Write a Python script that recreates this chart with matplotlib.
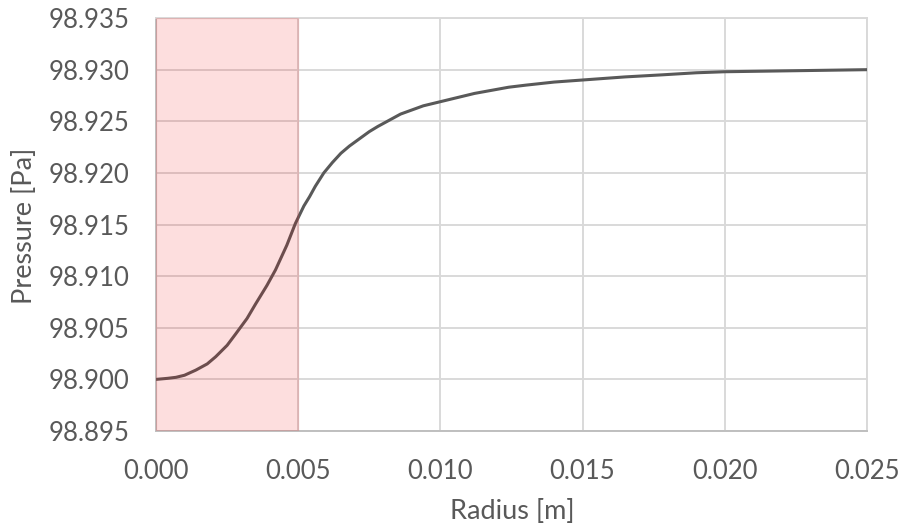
import numpy as np
import matplotlib.pyplot as plt

# values
radius = [0.0000, 0.0004, 0.0007, 0.0010, 0.0014, 0.0018, 0.0021, 0.0025,
          0.0028, 0.0032, 0.0035, 0.0039, 0.0042, 0.0046, 0.0049, 0.0052,
          0.0054, 0.0056, 0.0059, 0.0062, 0.0065, 0.0068, 0.0071, 0.0075,
          0.0078, 0.0082, 0.0086, 0.0090, 0.0094, 0.0100, 0.0106, 0.0112,
          0.0118, 0.0124, 0.0130, 0.0140, 0.0150, 0.0165, 0.0178, 0.0190,
          0.0200, 0.0225, 0.0250]
pressure = [98.9000, 98.9001, 98.9002, 98.9004, 98.9009, 98.9015, 98.9022, 98.9033,
            98.9044, 98.9059, 98.9073, 98.9091, 98.9106, 98.9130, 98.9151, 98.9168,
            98.9177, 98.9187, 98.9200, 98.9210, 98.9219, 98.9226, 98.9232, 98.9240,
            98.9245, 98.9251, 98.9257, 98.9261, 98.9265, 98.9269, 98.9273, 98.9277,
            98.9280, 98.9283, 98.9285, 98.9288, 98.9290, 98.9293, 98.9295, 98.9297,
            98.9298, 98.9299, 98.9300]
shade_start = 0.0
shade_end = 0.005

xticks = [0.000, 0.005, 0.010, 0.015, 0.020, 0.025]
yticks = [98.895, 98.900, 98.905, 98.910, 98.915, 98.920, 98.925, 98.930, 98.935]

plt.rcParams['font.family'] = ['Lato', 'DejaVu Sans']
text_col = '#595959'
grid_col = '#d9d9d9'

fig = plt.figure(figsize=(9.04, 5.31), dpi=100)
ax = fig.add_axes([0.1726, 0.1883, 0.959 - 0.1726, 0.966 - 0.1883])

ax.plot(radius, pressure, color='#595959', lw=2.2, zorder=3,
        solid_capstyle='round', solid_joinstyle='round')
ax.axvspan(shade_start, shade_end, facecolor=(0.95, 0.0, 0.0, 0.13),
           edgecolor=(0.9, 0.3, 0.3, 0.18), lw=1.0, zorder=4)

ax.set_xlim(xticks[0], xticks[-1])
ax.set_ylim(yticks[0], yticks[-1])
ax.set_xticks(xticks)
ax.set_yticks(yticks)
ax.set_xticklabels(['%.3f' % v for v in xticks])
ax.set_yticklabels(['%.3f' % v for v in yticks])
ax.grid(True, color=grid_col, lw=1.4, zorder=0)
ax.set_axisbelow(True)

for s in ['top', 'right']:
    ax.spines[s].set_color(grid_col)
    ax.spines[s].set_linewidth(1.4)
for s in ['left', 'bottom']:
    ax.spines[s].set_color('#bfbfbf')
    ax.spines[s].set_linewidth(1.4)

ax.tick_params(length=0, labelsize=18.5, colors=text_col)
ax.tick_params(axis='y', pad=19)
ax.tick_params(axis='x', pad=20)
ax.set_xlabel('Radius [m]', fontsize=19.5, color=text_col, va='center')
ax.set_ylabel('Pressure [Pa]', fontsize=19.5, color=text_col, va='center')
ax.xaxis.set_label_coords(0.5015, -0.196)
ax.yaxis.set_label_coords(-0.185, 0.497)

fig.savefig('out.png', dpi=100)
